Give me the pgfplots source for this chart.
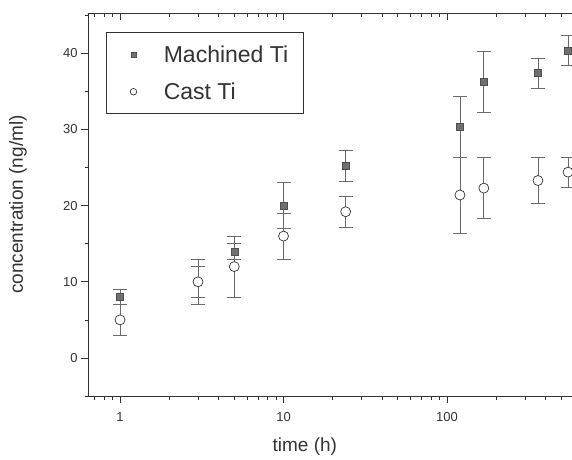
\documentclass[border=0pt]{standalone}
\usepackage{fontspec}
\setmainfont{Liberation Sans}
\usepackage{pgfplots}
\pgfplotsset{compat=1.18}

\definecolor{ink}{HTML}{333333}
\definecolor{barc}{HTML}{6A6A6A}
\definecolor{sqfill}{HTML}{707070}

\pgfplotsset{
	every tick label/.append style={font=\fontsize{13}{13}\selectfont, text=ink},
	markleg/.style={legend image code/.code={\path (-14pt,0pt) (28pt,0pt); \draw[##1, mark size=#1] plot coordinates {(0pt,0pt)};}},
}

\begin{document}
\begin{tikzpicture}
	% the scanned figure is cut off on the right: keep the page at the reference size
	\useasboundingbox (0,0) rectangle (572pt,459pt);
	\begin{axis}[
		at={(88pt,63pt)}, anchor=south west,
		scale only axis,
		width=522.5pt,
		height=383pt,
		xmode=log,
		xmin=0.637, xmax=1000,
		ymin=-5, ymax=45.3,
		xtick={1,10,100},
		xticklabels={1,10,100},
		minor xtick={0.7,0.8,0.9,2,3,4,5,6,7,8,9,20,30,40,50,60,70,80,90,200,300,400,500,600,700,800,900},
		ytick={0,10,20,30,40},
		minor ytick={-5,5,15,25,35,45},
		xtick pos=left, ytick pos=left,
		tick align=outside,
		major tick length=7pt,
		minor tick length=3.5pt,
		every tick/.style={ink, line width=0.6pt},
		axis line style={ink, line width=0.9pt},
		xticklabel style={yshift=-6pt},
		/pgf/number format/assume math mode=true,
		xlabel={time (h)},
		ylabel={concentration (ng/ml)},
		every axis x label/.style={at={(axis description cs:0.415,-0.133)}, anchor=center, font=\fontsize{19}{19}\selectfont, text=ink},
		every axis y label/.style={at={(axis description cs:-0.134,0.5)}, anchor=center, rotate=90, font=\fontsize{19}{19}\selectfont, text=ink},
		legend style={at={(axis description cs:0.034,0.95)}, anchor=north west,
			draw=ink, line width=0.7pt, font=\fontsize{23}{23}\selectfont, text=ink,
			inner xsep=13pt, inner ysep=11pt, row sep=15pt,
			legend cell align=left},
		error bars/error bar style={barc, line width=0.7pt},
		error bars/error mark options={rotate=90, mark size=7pt, barc, line width=0.7pt},
	]

	% Machined Ti
	\addplot+[only marks, mark=square*, mark size=3.5pt,
		mark options={fill=sqfill, draw=sqfill!70!black, line width=0.4pt},
		markleg=2.4pt,
		error bars/.cd, y dir=both, y explicit]
		coordinates {
			(1,8)      +- (0,1)
			(3,10)     +- (0,2)
			(5,14)     +- (0,1)
			(10,20)    +- (0,3)
			(24,25.2)  +- (0,2)
			(120,30.4) +- (0,4)
			(168,36.3) +- (0,4)
			(360,37.4) +- (0,2)
			(550,40.4) +- (0,2)
		};

	% Cast Ti
	\addplot+[only marks, mark=*, mark size=5pt,
		mark options={fill=white, draw=ink, line width=0.7pt},
		markleg=3.3pt,
		error bars/.cd, y dir=both, y explicit]
		coordinates {
			(1,5)      +- (0,2)
			(3,10)     +- (0,3)
			(5,12)     +- (0,4)
			(10,16)    +- (0,3)
			(24,19.2)  +- (0,2)
			(120,21.4) +- (0,5)
			(168,22.3) +- (0,4)
			(360,23.3) +- (0,3)
			(550,24.4) +- (0,2)
		};

	\legend{Machined Ti, Cast Ti}
	\end{axis}

	% top axis: ticks point inwards
	\begin{axis}[
		at={(88pt,63pt)}, anchor=south west,
		scale only axis,
		width=522.5pt,
		height=383pt,
		xmode=log,
		xmin=0.637, xmax=1000,
		ymin=-5, ymax=45.3,
		xtick={1,10,100},
		xticklabels={},
		minor xtick={0.7,0.8,0.9,2,3,4,5,6,7,8,9,20,30,40,50,60,70,80,90,200,300,400,500,600,700,800,900},
		xtick pos=right,
		ytick=\empty,
		tick align=inside,
		major tick length=7pt,
		minor tick length=3.5pt,
		every tick/.style={ink, line width=0.6pt},
		axis line style={draw=none},
	]
	\end{axis}
\end{tikzpicture}
\end{document}
